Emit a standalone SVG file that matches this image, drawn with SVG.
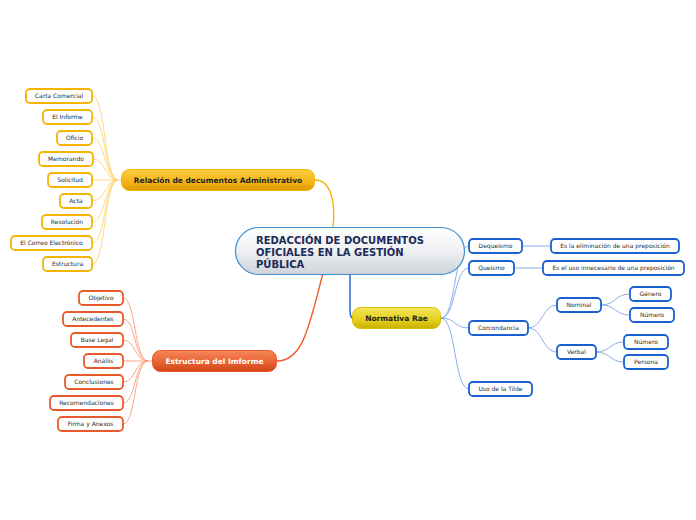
<svg xmlns="http://www.w3.org/2000/svg" width="696" height="520" viewBox="0 0 696 520">
<defs>
<linearGradient id="gC" x1="0" y1="0" x2="0" y2="1"><stop offset="0" stop-color="#ffffff"/><stop offset="0.5" stop-color="#eef0f2"/><stop offset="1" stop-color="#cfd3d7"/></linearGradient>
<linearGradient id="gY" x1="0" y1="0" x2="0" y2="1"><stop offset="0" stop-color="#fbd040"/><stop offset="0.6" stop-color="#f2b416"/><stop offset="1" stop-color="#dc9a00"/></linearGradient>
<linearGradient id="gR" x1="0" y1="0" x2="0" y2="1"><stop offset="0" stop-color="#f6875a"/><stop offset="0.6" stop-color="#e8602e"/><stop offset="1" stop-color="#cc4518"/></linearGradient>
<linearGradient id="gN" x1="0" y1="0" x2="0" y2="1"><stop offset="0" stop-color="#f4e65a"/><stop offset="0.6" stop-color="#e4cf1c"/><stop offset="1" stop-color="#c8b000"/></linearGradient>
</defs>
<style>
text{font-family:"DejaVu Sans","Liberation Sans",sans-serif;}
.lf{font-size:6px;fill:#2a2a2a;text-anchor:middle;}
.ly rect{fill:#fff;stroke:#f5b400;stroke-width:1.8;}
.lr rect{fill:#fff;stroke:#e85a2c;stroke-width:1.8;}
.lb rect{fill:#fff;stroke:#1a5fd0;stroke-width:1.8;}
.mt{font-size:7.5px;font-weight:bold;text-anchor:middle;}
.ct{font-size:10px;font-weight:bold;fill:#1b2b58;}
.cy{fill:none;stroke:#ffd470;stroke-width:0.9;}
.cr{fill:none;stroke:#f89c7c;stroke-width:0.9;}
.cb{fill:none;stroke:#7aa6ea;stroke-width:0.9;}
</style>
<g id="connectors">
<path d="M333,228 C336,200 330,180 315,180" fill="none" stroke="#f5b400" stroke-width="1.4"/>
<path d="M325,266 C310,320 305,361 277,361" fill="none" stroke="#ef5a28" stroke-width="1.4"/>
<path d="M350,275 L350,310 C350,316 351,318 353,318" fill="none" stroke="#1a5fd0" stroke-width="1.4"/>
<path d="M121,180 L118,180" class="cy"/>
<path d="M92,96 C106,96 104,180 118,180" class="cy"/>
<path d="M92,117 C106,117 104,180 118,180" class="cy"/>
<path d="M92,138 C106,138 104,180 118,180" class="cy"/>
<path d="M93,159 C106,159 104,180 118,180" class="cy"/>
<path d="M92,180 L118,180" class="cy"/>
<path d="M92,201 C106,201 104,180 118,180" class="cy"/>
<path d="M92,222 C106,222 104,180 118,180" class="cy"/>
<path d="M92,243 C106,243 104,180 118,180" class="cy"/>
<path d="M92,264 C106,264 104,180 118,180" class="cy"/>
<path d="M152,361 L148,361" class="cr"/>
<path d="M123,298 C136,298 134,361 148,361" class="cr"/>
<path d="M123,319 C136,319 134,361 148,361" class="cr"/>
<path d="M123,340 C136,340 134,361 148,361" class="cr"/>
<path d="M123,361 L148,361" class="cr"/>
<path d="M123,382 C136,382 134,361 148,361" class="cr"/>
<path d="M123,403 C136,403 134,361 148,361" class="cr"/>
<path d="M123,424 C136,424 134,361 148,361" class="cr"/>
<path d="M441,318 C456,318 454,246 469,246" class="cb"/>
<path d="M441,318 C456,318 454,268 469,268" class="cb"/>
<path d="M441,318 C456,318 454,328 469,328" class="cb"/>
<path d="M441,318 C456,318 454,389 469,389" class="cb"/>
<path d="M522,246 L551,246" class="cb"/>
<path d="M514,268 L543,268" class="cb"/>
<path d="M528,328 C543,328 542,305 557,305" class="cb"/>
<path d="M528,328 C543,328 542,352 557,352" class="cb"/>
<path d="M601,305 C616,305 615,294 630,294" class="cb"/>
<path d="M601,305 C616,305 615,315 630,315" class="cb"/>
<path d="M596,352 C610,352 610,342 624,342" class="cb"/>
<path d="M596,352 C610,352 610,362 624,362" class="cb"/>
</g>
<g id="central">
<rect x="235.5" y="227.5" width="229" height="47" rx="23.5" fill="url(#gC)" stroke="#3b8fd4" stroke-width="1.2"/>
<text class="ct" x="256" y="243.5">REDACCIÓN DE DOCUMENTOS</text>
<text class="ct" x="256" y="255.5">OFICIALES EN LA GESTIÓN</text>
<text class="ct" x="256" y="267.5">PÚBLICA</text>
</g>
<g id="relacion">
<rect x="121.5" y="169.5" width="193" height="21" rx="8" fill="url(#gY)" stroke="#f5b400" stroke-width="1"/>
<text class="mt" x="218" y="183" fill="#222">Relación de decumentos Administrativo</text>
</g>
<g id="estructura-informe">
<rect x="152.5" y="350.5" width="124" height="21" rx="8" fill="url(#gR)" stroke="#e85a2c" stroke-width="1"/>
<text class="mt" x="214.5" y="364" fill="#fff">Estructura del Imforme</text>
</g>
<g id="normativa">
<rect x="352.5" y="307.5" width="88" height="21" rx="8" fill="url(#gN)" stroke="#d8c000" stroke-width="1"/>
<text class="mt" x="396.5" y="321" fill="#222">Normativa Rae</text>
</g>
<g id="carta" class="ly"><rect x="26" y="89" width="66" height="14" rx="4"/><text class="lf" x="59" y="98.2">Carta Comercial</text></g>
<g id="el-informe" class="ly"><rect x="43" y="110" width="49" height="14" rx="4"/><text class="lf" x="67.5" y="119.2">El Informe</text></g>
<g id="oficio" class="ly"><rect x="57" y="131" width="35" height="14" rx="4"/><text class="lf" x="74.5" y="140.2">Oficio</text></g>
<g id="memorando" class="ly"><rect x="39" y="152" width="54" height="14" rx="4"/><text class="lf" x="66" y="161.2">Memorando</text></g>
<g id="solicitud" class="ly"><rect x="48" y="173" width="44" height="14" rx="4"/><text class="lf" x="70" y="182.2">Solicitud</text></g>
<g id="acta" class="ly"><rect x="60" y="194" width="32" height="14" rx="4"/><text class="lf" x="76" y="203.2">Acta</text></g>
<g id="resolucion" class="ly"><rect x="42" y="215" width="50" height="14" rx="4"/><text class="lf" x="67" y="224.2">Resolución</text></g>
<g id="correo" class="ly"><rect x="11" y="236" width="81" height="14" rx="4"/><text class="lf" x="51.5" y="245.2">El Correo Electrónico</text></g>
<g id="estructura" class="ly"><rect x="43" y="257" width="49" height="14" rx="4"/><text class="lf" x="67.5" y="266.2">Estructura</text></g>
<g id="objetivo" class="lr"><rect x="79" y="291" width="44" height="14" rx="4"/><text class="lf" x="101" y="300.2">Objetivo</text></g>
<g id="antecedentes" class="lr"><rect x="63" y="312" width="60" height="14" rx="4"/><text class="lf" x="93" y="321.2">Antecedentes</text></g>
<g id="base-legal" class="lr"><rect x="71" y="333" width="52" height="14" rx="4"/><text class="lf" x="97" y="342.2">Base Legal</text></g>
<g id="analisis" class="lr"><rect x="84" y="354" width="39" height="14" rx="4"/><text class="lf" x="103.5" y="363.2">Análiis</text></g>
<g id="conclusiones" class="lr"><rect x="65" y="375" width="58" height="14" rx="4"/><text class="lf" x="94" y="384.2">Conclusiones</text></g>
<g id="recomendaciones" class="lr"><rect x="50" y="396" width="73" height="14" rx="4"/><text class="lf" x="86.5" y="405.2">Recomendaciones</text></g>
<g id="firma" class="lr"><rect x="58" y="417" width="65" height="14" rx="4"/><text class="lf" x="90.5" y="426.2">Firma y Anexos</text></g>
<g id="dequeismo" class="lb"><rect x="469" y="239" width="53" height="14" rx="4"/><text class="lf" x="495.5" y="248.2">Dequeismo</text></g>
<g id="dequeismo-def" class="lb"><rect x="551" y="239" width="128" height="14" rx="4"/><text class="lf" x="615" y="248.2">Es la eliminación de una preposición</text></g>
<g id="queismo" class="lb"><rect x="469" y="261" width="45" height="14" rx="4"/><text class="lf" x="491.5" y="270.2">Queismo</text></g>
<g id="queismo-def" class="lb"><rect x="543" y="261" width="141" height="14" rx="4"/><text class="lf" x="613.5" y="270.2">Es el uso innecesario de una preposición</text></g>
<g id="corcondancia" class="lb"><rect x="469" y="321" width="59" height="14" rx="4"/><text class="lf" x="498.5" y="330.2">Corcondancia</text></g>
<g id="nominal" class="lb"><rect x="557" y="298" width="44" height="14" rx="4"/><text class="lf" x="579" y="307.2">Nominal</text></g>
<g id="verbal" class="lb"><rect x="557" y="345" width="39" height="14" rx="4"/><text class="lf" x="576.5" y="354.2">Verbal</text></g>
<g id="genero" class="lb"><rect x="630" y="287" width="41" height="14" rx="4"/><text class="lf" x="650.5" y="296.2">Género</text></g>
<g id="numero1" class="lb"><rect x="630" y="308" width="44" height="14" rx="4"/><text class="lf" x="652" y="317.2">Número</text></g>
<g id="numero2" class="lb"><rect x="624" y="335" width="44" height="14" rx="4"/><text class="lf" x="646" y="344.2">Número</text></g>
<g id="persona" class="lb"><rect x="624" y="355" width="44" height="14" rx="4"/><text class="lf" x="646" y="364.2">Persona</text></g>
<g id="tilde" class="lb"><rect x="469" y="382" width="63" height="14" rx="4"/><text class="lf" x="500.5" y="391.2">Uso de la Tilde</text></g>
</svg>
